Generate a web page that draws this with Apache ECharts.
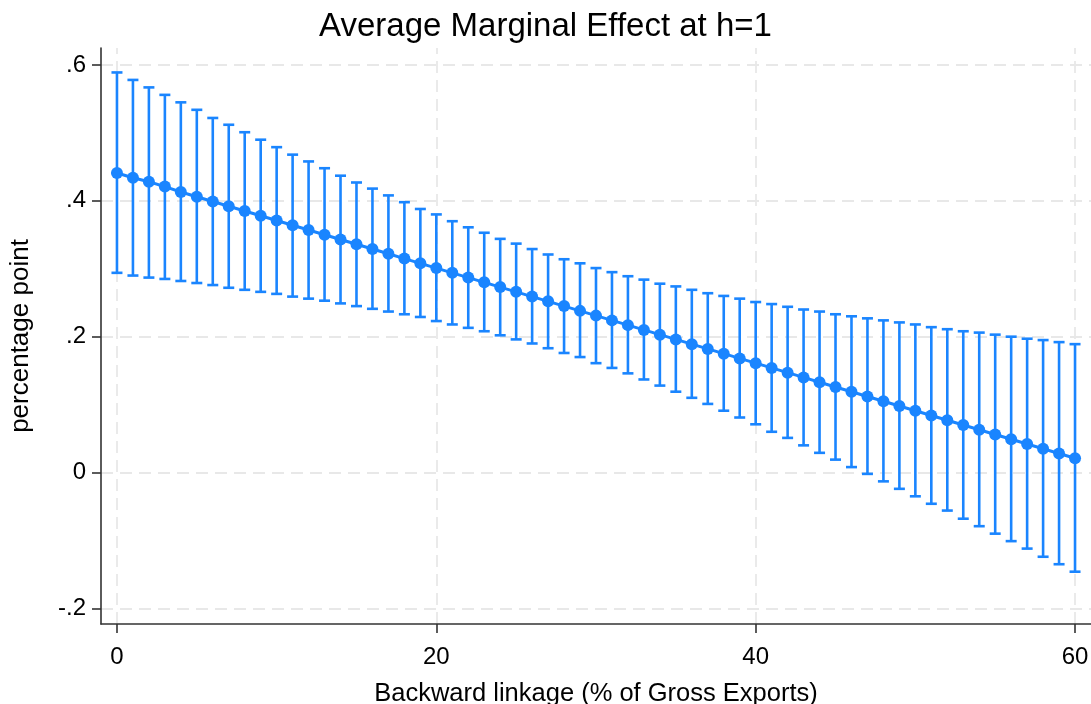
<!DOCTYPE html>
<html><head><meta charset="utf-8">
<script src="https://cdn.jsdelivr.net/npm/echarts@6/dist/echarts.min.js"></script>
<style>html,body{margin:0;padding:0;background:#fff}#c{width:1091px;height:704px}</style>
</head><body><div id="c"></div>
<script>
// Backward linkage (% of gross exports)
const linkage = [0,1,2,3,4,5,6,7,8,9,10,11,12,13,14,15,16,17,18,19,20,21,22,23,24,25,26,27,28,29,30,
  31,32,33,34,35,36,37,38,39,40,41,42,43,44,45,46,47,48,49,50,51,52,53,54,55,56,57,58,59,60];
// Average marginal effect (point estimates)
const estimate = [0.441,0.434,0.428,0.421,0.413,0.406,0.399,0.392,0.385,0.378,0.371,0.364,0.357,0.350,0.343,0.336,
  0.329,0.322,0.315,0.308,0.301,0.294,0.287,0.280,0.273,0.266,0.259,0.252,0.245,0.238,0.231,0.224,0.217,0.210,
  0.203,0.196,0.189,0.182,0.175,0.168,0.161,0.154,0.147,0.140,0.133,0.126,0.119,0.112,0.105,0.098,0.091,0.084,
  0.077,0.070,0.063,0.056,0.049,0.042,0.035,0.028,0.021];
// Upper confidence bound
const upper = [0.589,0.578,0.567,0.556,0.545,0.534,0.522,0.512,0.501,0.490,0.479,0.468,0.458,0.448,0.437,0.427,
  0.418,0.408,0.398,0.388,0.380,0.370,0.361,0.353,0.344,0.337,0.329,0.321,0.314,0.308,0.301,0.295,0.289,0.284,
  0.278,0.274,0.269,0.264,0.260,0.256,0.251,0.248,0.244,0.240,0.237,0.233,0.230,0.227,0.224,0.221,0.218,0.214,
  0.211,0.208,0.206,0.203,0.200,0.197,0.195,0.192,0.189];
// Lower confidence bound
const lower = [0.294,0.290,0.287,0.285,0.282,0.279,0.276,0.272,0.269,0.266,0.263,0.259,0.256,0.253,0.249,0.245,
  0.241,0.237,0.233,0.229,0.223,0.218,0.213,0.208,0.202,0.196,0.190,0.183,0.176,0.170,0.161,0.154,0.146,0.137,
  0.128,0.119,0.110,0.101,0.091,0.081,0.071,0.060,0.051,0.040,0.029,0.019,0.008,-0.002,-0.013,-0.024,-0.035,
  -0.046,-0.056,-0.068,-0.079,-0.090,-0.101,-0.112,-0.124,-0.135,-0.146];
const yTicks = [-0.2, 0, 0.2, 0.4, 0.6];
const yTickLabels = ['-.2', '0', '.2', '.4', '.6'];
const xTicks = [0, 20, 40, 60];
const xTickLabels = ['0', '20', '40', '60'];

const BLUE = '#1a85ff';
const FONT = '"Liberation Sans", Arial, sans-serif';
function lookup(ticks, labels, v) {
  for (let i = 0; i < ticks.length; i++) if (Math.abs(ticks[i] - v) < 1e-9) return labels[i];
  return '';
}

const chart = echarts.init(document.getElementById('c'), null, {renderer: 'canvas'});
chart.setOption({
  animation: false,
  backgroundColor: '#fff',
  title: {
    text: 'Average Marginal Effect at h=1',
    left: 'center', top: 5,
    textStyle: {fontFamily: FONT, fontSize: 33, fontWeight: 'normal', color: '#000'}
  },
  grid: {left: 101, right: 0, top: 48, bottom: 80, containLabel: false, outerBoundsMode: 'none'},
  xAxis: {
    type: 'value', min: -1, max: 61,
    name: 'Backward linkage (% of Gross Exports)', nameLocation: 'middle', nameGap: 57,
    nameTextStyle: {fontFamily: FONT, fontSize: 25.5, color: '#000'},
    axisLine: {show: true, onZero: false, lineStyle: {color: '#333', width: 1.6}},
    axisTick: {show: true, customValues: xTicks, length: 9, lineStyle: {color: '#333', width: 1.6}},
    axisLabel: {customValues: xTicks, margin: 21, fontFamily: FONT, fontSize: 24, color: '#000',
      formatter: v => lookup(xTicks, xTickLabels, v)},
    splitLine: {show: false}
  },
  yAxis: {
    type: 'value', min: -0.223, max: 0.625,
    name: 'percentage point', nameLocation: 'middle', nameGap: 67, nameRotate: 90,
    nameTextStyle: {fontFamily: FONT, fontSize: 26, color: '#000'},
    axisLine: {show: true, onZero: false, lineStyle: {color: '#333', width: 1.6}},
    axisTick: {show: true, customValues: yTicks, length: 9, lineStyle: {color: '#333', width: 1.6}},
    axisLabel: {customValues: yTicks, margin: 15, fontFamily: FONT, fontSize: 24, color: '#000',
      formatter: v => lookup(yTicks, yTickLabels, v)},
    splitLine: {show: false}
  },
  series: [
    {
      type: 'line', z: 1, silent: true,
      data: linkage.map((x, i) => [x, estimate[i]]),
      symbol: 'none', lineStyle: {opacity: 0},
      markLine: {
        z: 0, silent: true, symbol: ['none', 'none'], label: {show: false}, animation: false,
        lineStyle: {color: '#e8e8e8', type: [12, 7], width: 1.8},
        data: yTicks.map(v => ({yAxis: v})).concat(xTicks.map(v => ({xAxis: v})))
      }
    },
    {
      type: 'custom', z: 10, silent: true,
      data: linkage.map((x, i) => [x, lower[i], upper[i]]),
      encode: {x: 0, y: [1, 2]},
      renderItem: function (params, api) {
        const x = api.value(0);
        const lo = api.coord([x, api.value(1)]);
        const hi = api.coord([x, api.value(2)]);
        const cap = 5.5;
        const style = {stroke: BLUE, lineWidth: 2.6};
        return {type: 'group', children: [
          {type: 'line', shape: {x1: lo[0], y1: lo[1], x2: hi[0], y2: hi[1]}, style: style},
          {type: 'line', shape: {x1: lo[0] - cap, y1: lo[1], x2: lo[0] + cap, y2: lo[1]}, style: style},
          {type: 'line', shape: {x1: hi[0] - cap, y1: hi[1], x2: hi[0] + cap, y2: hi[1]}, style: style}
        ]};
      }
    },
    {
      type: 'line', z: 11, silent: true,
      data: linkage.map((x, i) => [x, estimate[i]]),
      symbol: 'circle', symbolSize: 12,
      lineStyle: {color: BLUE, width: 3},
      itemStyle: {color: BLUE}
    }
  ]
});
</script>
</body></html>
